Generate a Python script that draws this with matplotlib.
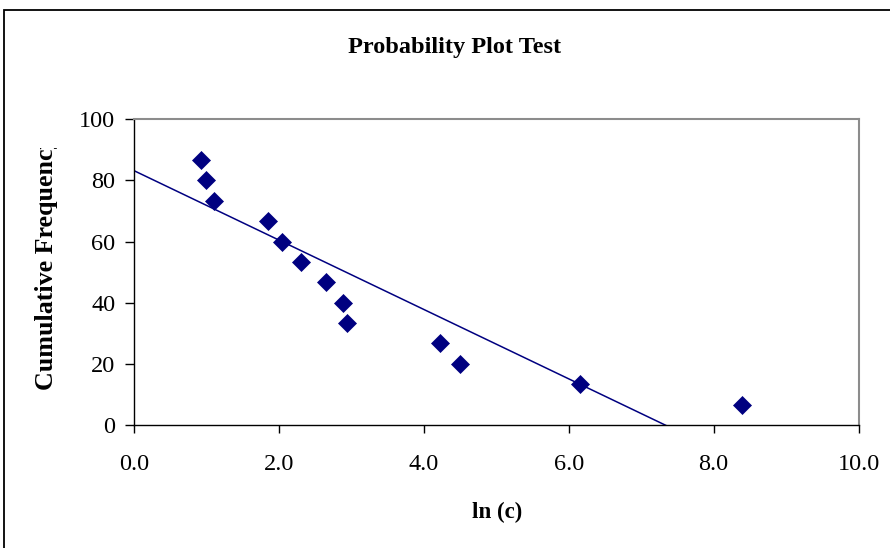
import matplotlib
matplotlib.use("Agg")
import matplotlib.pyplot as plt
import numpy as np
from matplotlib.patches import Rectangle
from matplotlib.transforms import Bbox

# Probability plot: cumulative frequency vs ln(c)
ln_c = [0.93, 0.99, 1.10, 1.85, 2.04, 2.30, 2.65, 2.89, 2.94, 4.23, 4.50, 6.15, 8.39]
cum_freq = [86.7, 80.0, 73.3, 66.7, 60.0, 53.3, 46.7, 40.0, 33.3, 26.7, 20.0, 13.3, 6.7]

# Linear trendline (forecast back to ln(c) = 0)
trend_slope = -11.35
trend_intercept = 83.2

x_ticks = [0.0, 2.0, 4.0, 6.0, 8.0, 10.0]
y_ticks = [0, 20, 40, 60, 80, 100]

W, H = 890, 548
plt.rcParams["font.family"] = ["Liberation Serif", "DejaVu Serif"]

fig = plt.figure(figsize=(W / 100, H / 100), dpi=100)
fig.patch.set_facecolor("white")

# chart frame (runs past the right and bottom edges)
fig.patches.append(Rectangle((4 / W, -0.05), 1.2, 1 - 10 / H + 0.05,
                             transform=fig.transFigure, fill=False,
                             edgecolor="black", linewidth=1.3))

ax = fig.add_axes([134 / W, 123 / H, (858.5 - 134) / W, (428.7 - 123) / H])

navy = "#000080"
xt = np.array([0.0, max(ln_c)])
ax.plot(xt, trend_intercept + trend_slope * xt, color=navy, linewidth=1.1, zorder=2)
ax.plot(ln_c, cum_freq, linestyle="none", marker="D", markersize=9.5,
        markerfacecolor=navy, markeredgecolor=navy, markeredgewidth=0.5, zorder=3)

ax.set_xlim(0, 10)
ax.set_ylim(0, 100)
ax.set_xticks(x_ticks)
ax.set_xticklabels([f"{v:.1f}" for v in x_ticks])
ax.set_yticks(y_ticks)
ax.set_yticklabels([str(v) for v in y_ticks])
ax.tick_params(axis="both", direction="out", width=1, labelsize=17.5, colors="black")
ax.tick_params(axis="x", length=6, pad=15)
ax.tick_params(axis="y", length=6.5, pad=7)

for side in ("left", "bottom"):
    ax.spines[side].set_color("black")
    ax.spines[side].set_linewidth(1.0)
for side in ("top", "right"):
    ax.spines[side].set_color("#8c8c8c")
    ax.spines[side].set_linewidth(1.5)

fig.text(454.5 / W, 1 - 47 / H, "Probability Plot Test", ha="center", va="center",
         fontsize=17.5, fontweight="bold")
fig.text(497 / W, 1 - 512 / H, "ln (c)", ha="center", va="center",
         fontsize=16.5, fontweight="bold")

# y-axis title is cut off at the top of its slot
ylab = fig.text(47 / W, 1 - 390 / H, "Cumulative Frequency", ha="center", va="bottom",
                rotation=90, fontsize=18.7, fontweight="bold")
ylab.set_clip_box(Bbox.from_extents(0, 0, 120, H - 148))
ylab.set_clip_on(True)

fig.savefig("out.png", dpi=100)
